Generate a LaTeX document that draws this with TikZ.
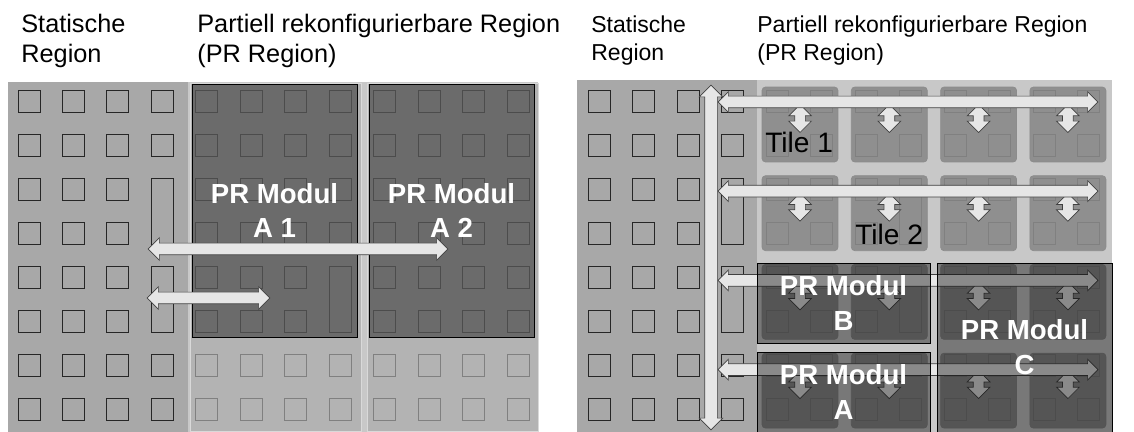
\documentclass[tikz,border=0pt]{standalone}
\usepackage{fontspec}
\setmainfont{Liberation Sans}
\usetikzlibrary{shapes.arrows}

\definecolor{staticgray}{HTML}{A8A8A8}
\definecolor{prgray}{HTML}{C8C8C8}
\definecolor{blockgray}{HTML}{B3B3B3}
\definecolor{tilegray}{HTML}{8F8F8F}
\definecolor{busgray}{HTML}{E6E6E6}

\begin{document}
\begin{tikzpicture}[x=0.02cm, y=-0.02cm,
  every node/.style={inner sep=0pt},
  title/.style={anchor=north west, align=left, font=\fontsize{14.4}{17}\selectfont},
  cell/.style={draw=black!85, line width=0.5pt, minimum size=0.44cm},
  prcell/.style={cell, draw=black!50},
  bram/.style={minimum height=1.32cm},
  tile/.style={draw=black!45, fill=tilegray, rounded corners=2pt, minimum width=1.52cm, minimum height=1.5cm},
  module/.style={draw=black, line width=0.5pt, fill=black, fill opacity=0.4, text opacity=1, text=white, align=center, font=\bfseries\fontsize{15.7}{19.9}\selectfont},
  bus/.style={double arrow, draw=black!75, fill=busgray, line width=0.4pt, inner ysep=0.11cm, minimum width=0.44cm, double arrow head extend=0.11cm},
  tilebus/.style={bus, rotate=90, inner ysep=0.1cm, minimum height=0.56cm, minimum width=0.44cm, double arrow head extend=0.12cm}
]
\useasboundingbox (0,0) rectangle (1134,432);

% Left: static region and PR region
\fill[staticgray] (8,82) rectangle (188,432);
\fill[prgray] (188,82) rectangle (538,432);
\foreach \bx in {190,367} {
  \filldraw[fill=blockgray, draw=white!85!black] (\bx,83) rectangle +(171,348);
}

% Left: resource cells
\foreach \i in {0,...,11} {
  \foreach \j in {0,...,7} {
    \pgfmathtruncatemacro{\isbram}{(\i==3)*(\j>1)*(\j<6)+(\i==7)*(\j>3)*(\j<6)}
    \ifnum\isbram=0
      \ifnum\i<4 \node[cell] (l\i-\j) at (29+44.45*\i,101+44.1*\j) {};
      \else \node[prcell] (l\i-\j) at (29+44.45*\i,101+44.1*\j) {};
      \fi
    \fi
  }
}
\foreach \i/\j/\col in {3/2/black!85, 3/4/black!85, 7/4/black!50} {
  \node[cell, bram, draw=\col] (lb\i-\j) at (29+44.45*\i,123+44.1*\j) {};
}

% Left: PR modules
\node[module, minimum width=3.3cm, minimum height=5.06cm] (modA1) at (274.5,210.5) {PR Modul\\A 1};
\node[module, minimum width=3.3cm, minimum height=5.06cm] (modA2) at (451.5,210.5) {PR Modul\\A 2};

% Left: busses
\node[bus, minimum height=6cm] (busL1) at (298,249) {};
\node[bus, minimum height=2.46cm] (busL2) at (208.5,298) {};

% Left: titles
\node[title] (statL) at (21,14) {Statische\\Region};
\node[title] (prL) at (197,14) {Partiell rekonfigurierbare Region\\(PR Region)};

% Right: static region and PR region
\fill[staticgray] (577,80) rectangle (757,432);
\fill[prgray] (757,80) rectangle (1112,432);

% Right: tiles
\foreach \i in {0,...,3} {
  \foreach \j in {0,...,3} {
    \node[tile] (t\i-\j) at (800+89.3*\i,124.5+88.7*\j) {};
  }
}

% Right: resource cells
\foreach \i in {0,...,11} {
  \foreach \j in {0,...,7} {
    \pgfmathtruncatemacro{\isbram}{(\i==3 || \i==7)*(\j>1)*(\j<6)}
    \ifnum\isbram=0
      \ifnum\i<4 \node[cell] (r\i-\j) at (599+44.5*\i,101+44.1*\j) {};
      \else \node[prcell] (r\i-\j) at (599+44.5*\i,101+44.1*\j) {};
      \fi
    \fi
  }
}
\foreach \i/\j/\col in {3/2/black!85, 3/4/black!85, 7/2/black!50, 7/4/black!50} {
  \node[cell, bram, draw=\col] (rb\i-\j) at (599+44.5*\i,123+44.1*\j) {};
}

% Right: tile links
\foreach \i in {0,...,3} {
  \foreach \j in {0,...,3} {
    \node[tilebus] (tb\i-\j) at (800+89.3*\i,118.5+88.7*\j) {};
  }
}

% Right: busses
\foreach \j in {0,...,3} {
  \node[bus, minimum height=7.6cm, minimum width=0.4cm, double arrow head extend=0.09cm] (busR\j) at (908,102+89.2*\j) {};
}
\node[bus, rotate=90, inner ysep=0.12cm, minimum height=6.9cm, minimum width=0.46cm, double arrow head extend=0.11cm] (busV) at (711,257.5) {};

% Right: PR modules
\node[module, minimum width=3.46cm, minimum height=1.6cm] (modB) at (843.5,303) {PR Modul\\B};
\node[module, minimum width=3.46cm, minimum height=1.6cm] (modA) at (843.5,392) {PR Modul\\A};
\node[module, minimum width=3.5cm, minimum height=3.38cm] (modC) at (1024.5,347.5) {PR Modul\\C};

% Right: labels
\node[anchor=base west, font=\fontsize{16}{19}\selectfont] (tile1) at (765,153) {Tile 1};
\node[anchor=base west, font=\fontsize{16}{19}\selectfont] (tile2) at (855,245) {Tile 2};
\node[title, font=\fontsize{13.1}{16}\selectfont] (statR) at (591,15) {Statische\\Region};
\node[title, font=\fontsize{13.1}{16}\selectfont] (prR) at (757,15) {Partiell rekonfigurierbare Region\\(PR Region)};

\end{tikzpicture}
\end{document}
